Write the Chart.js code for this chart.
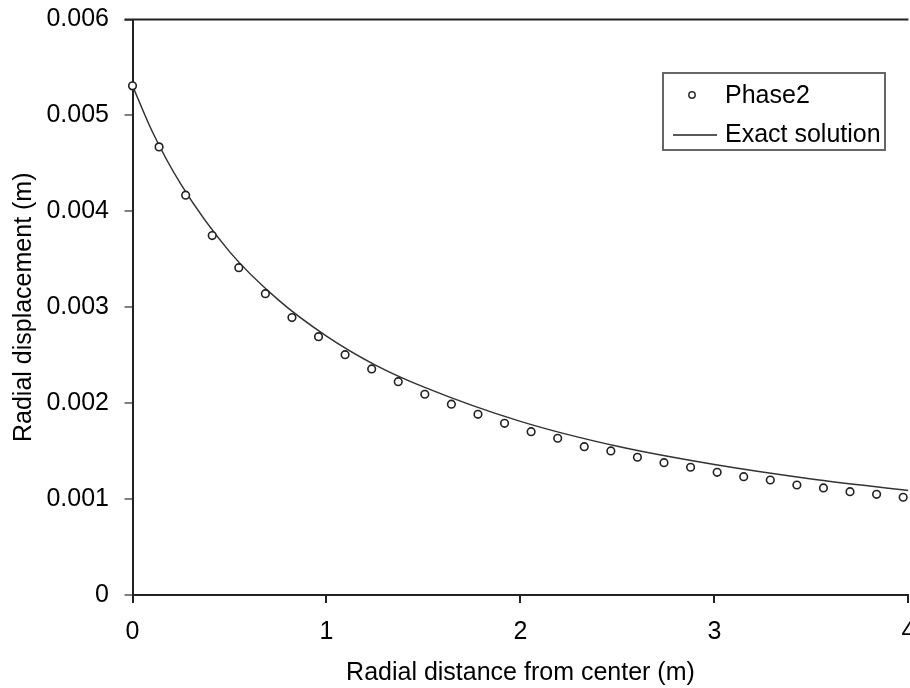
<!DOCTYPE html>
<html>
<head>
<meta charset="utf-8">
<script src="https://cdn.jsdelivr.net/npm/chart.js@4.4.1/dist/chart.umd.min.js"></script>
<style>
  html, body { margin: 0; padding: 0; background: #fff; overflow: hidden; width: 910px; height: 688px; }
  canvas { display: block; }
</style>
</head>
<body>
<canvas id="chart" width="914" height="688"></canvas>
<script>
// Phase2 results (circles)
const phaseX = [0, 0.137, 0.274, 0.411, 0.548, 0.685, 0.822, 0.959, 1.096, 1.233,
                1.370, 1.507, 1.644, 1.781, 1.918, 2.055, 2.192, 2.329, 2.466, 2.603,
                2.740, 2.877, 3.014, 3.151, 3.288, 3.425, 3.562, 3.699, 3.836, 3.973];
const phaseY = [0.005308, 0.004672, 0.004168, 0.003747, 0.003413, 0.003142, 0.002892, 0.002693, 0.002506, 0.002357,
                0.002224, 0.002093, 0.001989, 0.001884, 0.001790, 0.001703, 0.001634, 0.001546, 0.001502, 0.001436,
                0.001380, 0.001332, 0.001279, 0.001234, 0.001199, 0.001147, 0.001116, 0.001077, 0.001050, 0.001019];

// exact solution (line)
const exactX = [0, 0.1, 0.25, 0.5, 0.75, 1.0, 1.25, 1.5, 2.0, 2.5, 3.0, 3.5, 4.0];
const exactY = [0.00531, 0.00484, 0.00428, 0.00358, 0.00308, 0.00270, 0.00240, 0.00217, 0.00181, 0.00155, 0.00136, 0.00121, 0.00109];

const xTickLabels = ['0', '1', '2', '3', '4'];
const yTickLabels = ['0', '0.001', '0.002', '0.003', '0.004', '0.005', '0.006'];

const FONT = "'Liberation Sans', Arial, sans-serif";
const SIZE = 25;

// legend box + top frame line
const extras = {
    id: 'extras',
    afterDraw(chart) {
        const ctx = chart.ctx;
        const a = chart.chartArea;
        ctx.save();
        // top border
        ctx.strokeStyle = '#222';
        ctx.lineWidth = 2;
        ctx.beginPath();
        ctx.moveTo(a.left - 8, a.top);
        ctx.lineTo(a.right, a.top);
        ctx.stroke();

        // legend
        ctx.strokeStyle = '#666';
        ctx.lineWidth = 2;
        ctx.strokeRect(663, 73, 222, 77);
        const ds = chart.data.datasets;
        ctx.font = SIZE + 'px ' + FONT;
        ctx.textBaseline = 'middle';
        ctx.textAlign = 'left';
        // Phase2 symbol
        ctx.beginPath();
        ctx.arc(692, 95, 3.2, 0, Math.PI * 2);
        ctx.fillStyle = '#fff';
        ctx.fill();
        ctx.strokeStyle = '#333';
        ctx.lineWidth = 1.5;
        ctx.stroke();
        ctx.fillStyle = '#000';
        ctx.fillText(ds[1].label, 725, 96);
        // exact line symbol
        ctx.strokeStyle = '#222';
        ctx.lineWidth = 1.5;
        ctx.beginPath();
        ctx.moveTo(673, 135);
        ctx.lineTo(717, 135);
        ctx.stroke();
        ctx.fillText(ds[0].label, 725, 135);
        ctx.restore();
    }
};

const ctx = document.getElementById('chart').getContext('2d');
const myChart = new Chart(ctx, {
    type: 'scatter',
    data: {
        datasets: [{
            label: 'Exact solution',
            data: exactX.map((x, i) => ({ x: x, y: exactY[i] })),
            showLine: true,
            borderColor: '#333',
            borderWidth: 1.5,
            pointRadius: 0,
            cubicInterpolationMode: 'monotone',
            order: 2
        }, {
            label: 'Phase2',
            data: phaseX.map((x, i) => ({ x: x, y: phaseY[i] })),
            showLine: false,
            pointRadius: 3.8,
            pointBorderWidth: 1.6,
            pointBackgroundColor: '#fff',
            pointBorderColor: '#222',
            clip: false,
            order: 1
        }]
    },
    options: {
        responsive: false,
        animation: false,
        devicePixelRatio: 1,
        layout: { padding: { top: 19.5, right: 1, bottom: 0, left: 0 } },
        plugins: {
            legend: { display: false },
            tooltip: { enabled: false }
        },
        scales: {
            x: {
                type: 'linear',
                min: 0,
                max: 4,
                afterFit: s => { s.height = 93; s.paddingLeft = 0; s.paddingRight = 0; },
                ticks: {
                    stepSize: 1,
                    padding: 14,
                    color: '#000',
                    font: { family: FONT, size: SIZE },
                    maxRotation: 0,
                    callback: (v, i) => xTickLabels[i]
                },
                grid: { drawOnChartArea: false, tickLength: 8, color: '#222', lineWidth: 2 },
                border: { color: '#222', width: 2 },
                title: {
                    display: true,
                    text: 'Radial distance from center (m)',
                    color: '#000',
                    font: { family: FONT, size: SIZE },
                    padding: { top: 0, bottom: 0 }
                }
            },
            y: {
                min: 0,
                max: 0.006,
                afterFit: s => { s.width = 132.5; s.paddingTop = 0; s.paddingBottom = 0; },
                ticks: {
                    stepSize: 0.001,
                    padding: 15.5,
                    color: '#000',
                    font: { family: FONT, size: SIZE },
                    callback: (v, i) => yTickLabels[i]
                },
                grid: { drawOnChartArea: false, tickLength: 8, color: '#808080', lineWidth: 2 },
                border: { color: '#222', width: 2 },
                title: {
                    display: true,
                    text: 'Radial displacement (m)',
                    color: '#000',
                    font: { family: FONT, size: SIZE },
                    padding: { top: 9, bottom: 0 }
                }
            }
        }
    },
    plugins: [extras]
});
</script>
</body>
</html>
